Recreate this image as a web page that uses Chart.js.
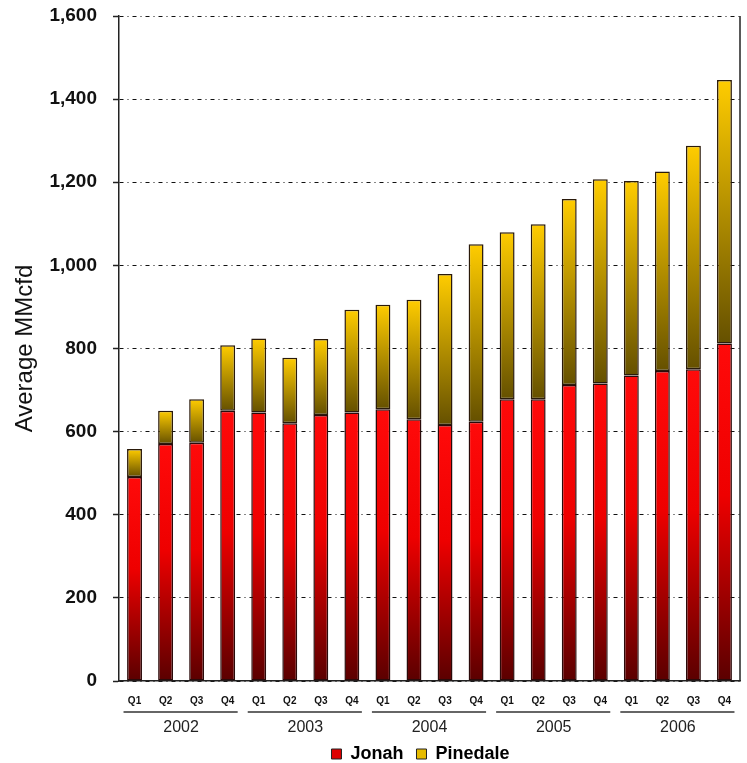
<!DOCTYPE html>
<html>
<head>
<meta charset="utf-8">
<script src="https://cdn.jsdelivr.net/npm/chart.js@4.4.1/dist/chart.umd.min.js"></script>
<style>
    html, body { margin: 0; padding: 0; background: #fff; }
    .chart-box { width: 747px; height: 763px; position: relative; }
</style>
</head>
<body>
<div class="chart-box"><canvas id="chart"></canvas></div>
<script>
const quarters = ['Q1', 'Q2', 'Q3', 'Q4', 'Q1', 'Q2', 'Q3', 'Q4', 'Q1', 'Q2', 'Q3', 'Q4',
    'Q1', 'Q2', 'Q3', 'Q4', 'Q1', 'Q2', 'Q3', 'Q4'];
const years = ['2002', '2003', '2004', '2005', '2006'];
const jonah = [491, 570, 573, 650, 646, 620, 640, 646, 654, 630, 616, 624, 678, 678, 712, 716, 735, 746, 750, 812];
const pinedale = [67, 80, 105, 158, 178, 158, 183, 247, 251, 287, 363, 427, 402, 421, 448, 491, 468, 480, 538, 634];
const yTicks = ['0', '200', '400', '600', '800', '1,000', '1,200', '1,400', '1,600'];

const chartBlock = () => {
    const canvas = document.getElementById('chart');
    const zeros = jonah.map(() => 0);
    const totals = jonah.map((v, i) => v + pinedale[i]);

    function barFill(context, lows, highs, stops) {
        const chart = context.chart;
        if (context.type !== 'data' || !chart.chartArea) return stops[0][1];
        const y = chart.scales.y;
        const i = context.dataIndex;
        const top = y.getPixelForValue(highs[i]);
        const bottom = y.getPixelForValue(lows[i]);
        const g = chart.ctx.createLinearGradient(0, top, 0, bottom);
        stops.forEach(([o, c]) => g.addColorStop(o, c));
        return g;
    }

    const redStops = [[0, '#ff0a0a'], [0.45, '#ee0000'], [1, '#5a0000']];
    const goldStops = [[0, '#ffcc00'], [1, '#655000']];
    const legendColors = ['#dd0000', '#e6bb00'];

    // group lines under the quarters + right frame line
    const decorations = {
        id: 'decorations',
        afterLayout(chart) {
            // legend sits a bit left of the plot centre in the original
            chart.legend.left -= 9;
            chart.legend.right -= 9;
        },
        afterDraw(chart) {
            const {ctx, chartArea, scales} = chart;
            const x = scales.x;
            const yearAxis = scales.x2;
            ctx.save();
            ctx.strokeStyle = '#222';
            ctx.lineWidth = 1.5;
            ctx.beginPath();
            ctx.moveTo(chartArea.right, chartArea.top);
            ctx.lineTo(chartArea.right, chartArea.bottom);
            ctx.stroke();
            ctx.strokeStyle = '#333';
            years.forEach((yr, g) => {
                const x1 = x.getPixelForValue(g * 4) - 11;
                const x2 = x.getPixelForValue(g * 4 + 3) + 10;
                ctx.beginPath();
                ctx.moveTo(x1, yearAxis.top + 4);
                ctx.lineTo(x2, yearAxis.top + 4);
                ctx.stroke();
            });
            ctx.restore();
        }
    };

    new Chart(canvas, {
        type: 'bar',
        data: {
            labels: quarters,
            datasets: [{
                label: 'Jonah',
                data: jonah,
                backgroundColor: (c) => barFill(c, zeros, jonah, redStops),
                borderColor: '#2a0a0a',
                borderWidth: 1.5,
                borderSkipped: false,
                barPercentage: 0.48,
                categoryPercentage: 1
            }, {
                label: 'Pinedale',
                data: pinedale,
                backgroundColor: (c) => barFill(c, jonah, totals, goldStops),
                borderColor: '#2a1a0a',
                borderWidth: 1.5,
                borderSkipped: false,
                barPercentage: 0.48,
                categoryPercentage: 1
            }]
        },
        options: {
            responsive: true,
            maintainAspectRatio: false,
            animation: false,
            layout: {
                padding: { top: 16, right: 7, left: 0, bottom: -10 }
            },
            scales: {
                x: {
                    stacked: true,
                    offset: true,
                    grid: { display: false, drawTicks: false, offset: true },
                    border: { display: true, color: '#222', width: 1.5 },
                    ticks: {
                        maxRotation: 0,
                        autoSkip: false,
                        padding: 14,
                        color: '#111',
                        font: { family: 'Arial, "Liberation Sans", sans-serif', size: 10, weight: 'bold' }
                    },
                    afterFit(scale) { scale.height = 27; }
                },
                x2: {
                    type: 'category',
                    position: 'bottom',
                    labels: years,
                    offset: true,
                    weight: 1,
                    grid: { display: false, drawTicks: false },
                    border: { display: false },
                    ticks: {
                        maxRotation: 0,
                        autoSkip: false,
                        padding: 10,
                        color: '#222',
                        font: { family: 'Arial, "Liberation Sans", sans-serif', size: 16 }
                    },
                    afterFit(scale) { scale.height = 29; }
                },
                y: {
                    stacked: true,
                    min: 0,
                    max: 1600,
                    ticks: {
                        stepSize: 200,
                        padding: 16,
                        color: '#111',
                        font: { family: 'Arial, "Liberation Sans", sans-serif', size: 19, weight: 'bold' },
                        callback: (value, index) => yTicks[index]
                    },
                    grid: {
                        color: '#111',
                        lineWidth: 1,
                        tickLength: 6,
                        tickColor: '#222',
                        tickWidth: 1.5
                    },
                    border: { display: true, color: '#222', width: 1.5, dash: [4, 4, 1, 4] },
                    title: {
                        display: true,
                        text: 'Average MMcfd',
                        color: '#111',
                        padding: { top: 11, bottom: 0 },
                        font: { family: 'Arial, "Liberation Sans", sans-serif', size: 24 }
                    },
                    afterFit(scale) {
                        scale.width = 119;
                        scale.paddingTop = 0;
                        scale.paddingBottom = 0;
                    }
                }
            },
            plugins: {
                legend: {
                    position: 'bottom',
                    fullSize: false,
                    labels: {
                        boxWidth: 10,
                        boxHeight: 10,
                        padding: 8,
                        color: '#111',
                        font: { family: 'Arial, "Liberation Sans", sans-serif', size: 18, weight: 'bold' },
                        generateLabels: (chart) => chart.data.datasets.map((ds, i) => ({
                            text: i === 0 ? ds.label + ' ' : ds.label,
                            fillStyle: legendColors[i],
                            strokeStyle: '#222',
                            lineWidth: 1,
                            datasetIndex: i,
                            hidden: false
                        }))
                    }
                },
                tooltip: { enabled: false }
            }
        },
        plugins: [decorations]
    });
};

chartBlock();
</script>
</body>
</html>
